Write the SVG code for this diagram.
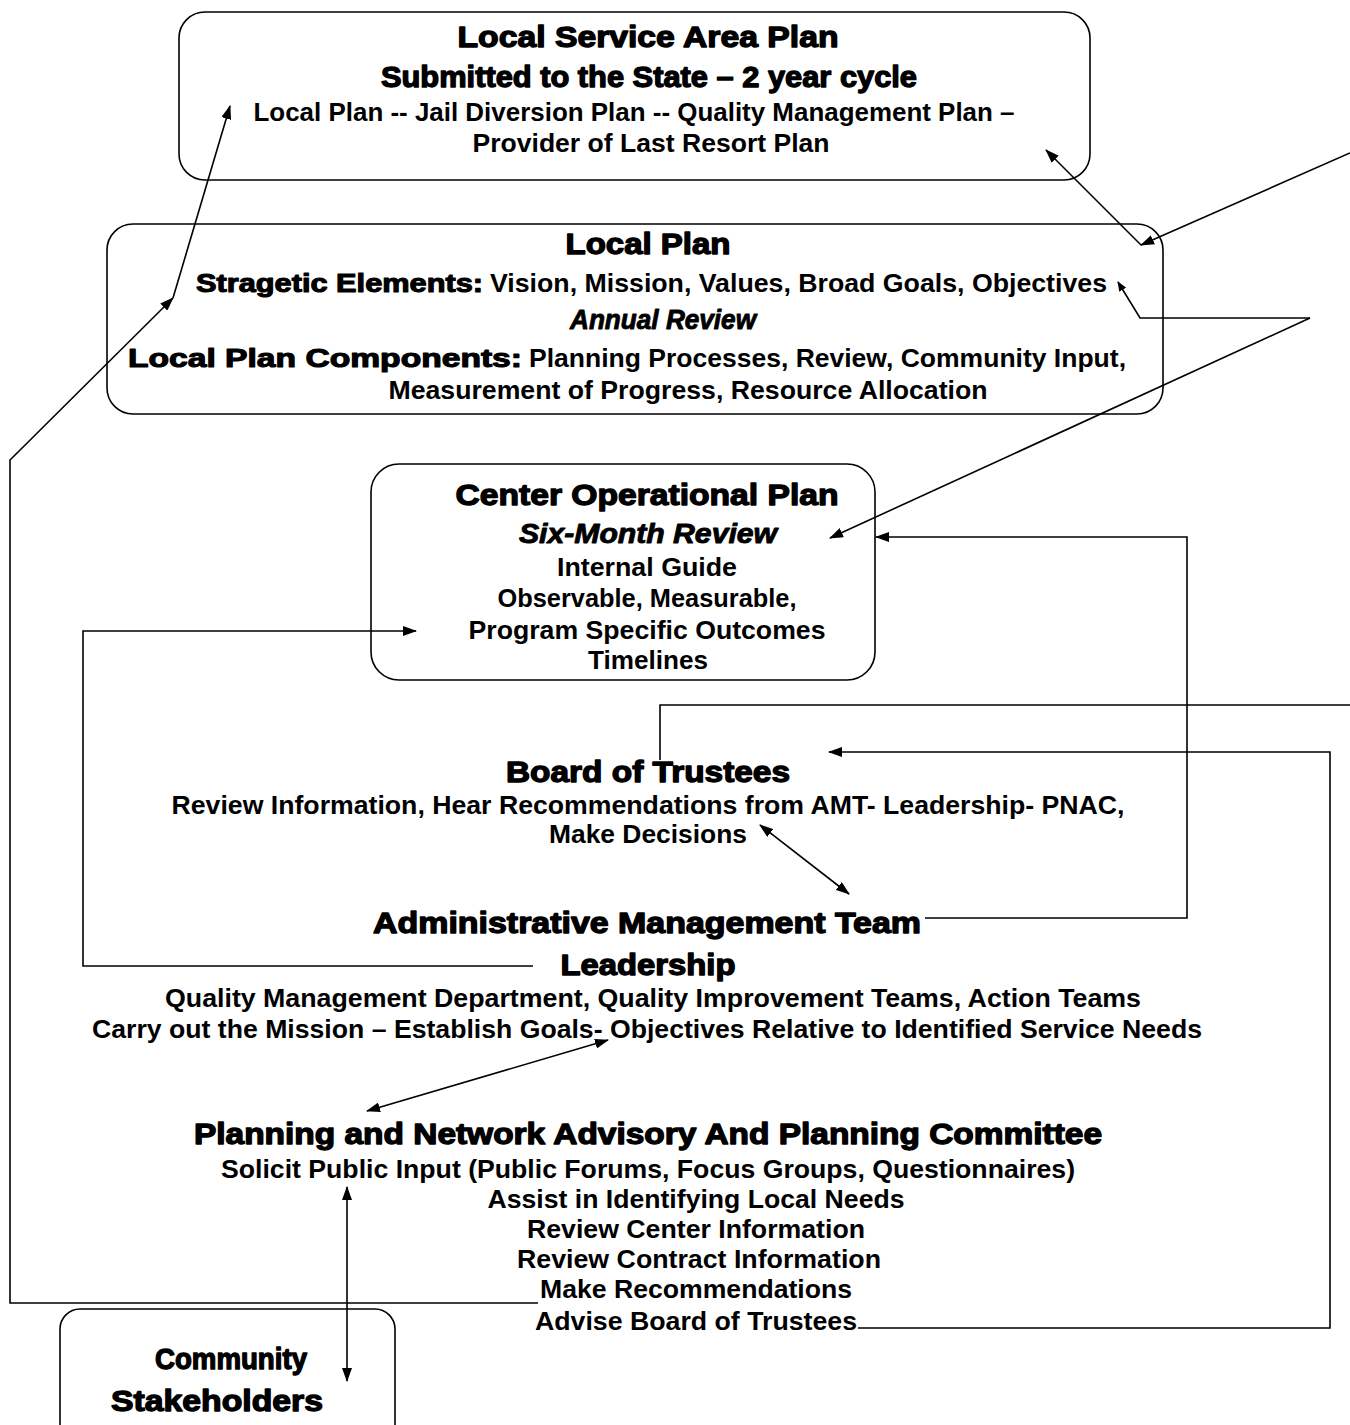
<svg xmlns="http://www.w3.org/2000/svg" width="1350" height="1425" viewBox="0 0 1350 1425">
<style>
.box{fill:#fff;stroke:#000;stroke-width:1.6}
.h{font-family:"Liberation Sans",Arial,sans-serif;font-weight:bold;font-size:29px;fill:#000;stroke:#000;stroke-width:1.3;stroke-linejoin:round}
.hs{font-family:"Liberation Sans",Arial,sans-serif;font-weight:bold;font-size:26px;fill:#000;stroke:#000;stroke-width:1.1;stroke-linejoin:round}
.b{font-family:"Liberation Sans",Arial,sans-serif;font-weight:bold;font-size:25px;fill:#000}
.bi{font-family:"Liberation Sans",Arial,sans-serif;font-weight:bold;font-style:italic;font-size:27px;fill:#000;stroke:#000;stroke-width:0.9;stroke-linejoin:round}
.c{fill:none;stroke:#000;stroke-width:1.6}
text{text-anchor:middle}
</style>
<defs>
<marker id="ah" viewBox="0 0 14 10" refX="13" refY="5" markerWidth="14" markerHeight="10" markerUnits="userSpaceOnUse" orient="auto-start-reverse">
<path d="M0,0 L14,5 L0,10 Z" fill="#000"/>
</marker>
<marker id="ahs" viewBox="0 0 10 8" refX="9" refY="4" markerWidth="10" markerHeight="8" markerUnits="userSpaceOnUse" orient="auto">
<path d="M0,0 L10,4 L0,8 Z" fill="#000"/>
</marker>
</defs>
<rect width="1350" height="1425" fill="#fff"/>

<g id="local-service-area-plan">
<rect class="box" x="179" y="12" width="911" height="168" rx="26"/>
<text class="h" x="648" y="47" textLength="381" lengthAdjust="spacingAndGlyphs">Local Service Area Plan</text>
<text class="h" x="649" y="87" textLength="536" lengthAdjust="spacingAndGlyphs">Submitted to the State – 2 year cycle</text>
<text class="b" x="634" y="121" textLength="761" lengthAdjust="spacingAndGlyphs">Local Plan -- Jail Diversion Plan --  Quality Management Plan –</text>
<text class="b" x="651" y="152" textLength="357" lengthAdjust="spacingAndGlyphs">Provider of Last Resort Plan</text>
</g>

<g id="local-plan">
<rect class="box" x="107" y="224" width="1056" height="190" rx="26"/>
<text class="h" x="648" y="254" textLength="165" lengthAdjust="spacingAndGlyphs">Local Plan</text>
<text x="196" y="292" style="text-anchor:start"><tspan class="hs" textLength="287" lengthAdjust="spacingAndGlyphs">Stragetic Elements:</tspan><tspan class="b" dx="7" textLength="617" lengthAdjust="spacingAndGlyphs">Vision, Mission, Values, Broad Goals, Objectives</tspan></text>
<text class="bi" x="663" y="329" textLength="186" lengthAdjust="spacingAndGlyphs">Annual Review</text>
<text x="128" y="367" style="text-anchor:start"><tspan class="hs" textLength="394" lengthAdjust="spacingAndGlyphs">Local Plan Components:</tspan><tspan class="b" dx="7" textLength="597" lengthAdjust="spacingAndGlyphs">Planning Processes, Review, Community Input,</tspan></text>
<text class="b" x="688" y="399" textLength="599" lengthAdjust="spacingAndGlyphs">Measurement of Progress, Resource Allocation</text>
</g>

<g id="center-operational-plan">
<rect class="box" x="371" y="464" width="504" height="216" rx="28"/>
<text class="h" x="647" y="505" textLength="383" lengthAdjust="spacingAndGlyphs">Center Operational Plan</text>
<text class="bi" x="648" y="543" textLength="258" lengthAdjust="spacingAndGlyphs">Six-Month Review</text>
<text class="b" x="647" y="576" textLength="180" lengthAdjust="spacingAndGlyphs">Internal Guide</text>
<text class="b" x="647" y="607" textLength="299" lengthAdjust="spacingAndGlyphs">Observable, Measurable,</text>
<text class="b" x="647" y="639" textLength="357" lengthAdjust="spacingAndGlyphs">Program Specific Outcomes</text>
<text class="b" x="648" y="669" textLength="120" lengthAdjust="spacingAndGlyphs">Timelines</text>
</g>

<g id="board-of-trustees">
<text class="h" x="648" y="782" textLength="284" lengthAdjust="spacingAndGlyphs">Board of Trustees</text>
<text class="b" x="648" y="814" textLength="953" lengthAdjust="spacingAndGlyphs">Review Information, Hear Recommendations from AMT- Leadership- PNAC,</text>
<text class="b" x="648" y="843" textLength="198" lengthAdjust="spacingAndGlyphs">Make Decisions</text>
</g>

<g id="administrative-management-team">
<text class="h" x="647" y="933" textLength="548" lengthAdjust="spacingAndGlyphs">Administrative Management Team</text>
<text class="h" x="648" y="975" textLength="175" lengthAdjust="spacingAndGlyphs">Leadership</text>
<text class="b" x="653" y="1007" textLength="976" lengthAdjust="spacingAndGlyphs">Quality Management Department, Quality Improvement Teams, Action Teams</text>
<text class="b" x="647" y="1038" textLength="1110" lengthAdjust="spacingAndGlyphs">Carry out the Mission – Establish Goals- Objectives Relative to Identified Service Needs</text>
</g>

<g id="pnac">
<text class="h" x="648" y="1144" textLength="908" lengthAdjust="spacingAndGlyphs">Planning and Network Advisory And Planning Committee</text>
<text class="b" x="648" y="1178" textLength="854" lengthAdjust="spacingAndGlyphs">Solicit Public Input (Public Forums, Focus Groups, Questionnaires)</text>
<text class="b" x="696" y="1208" textLength="417" lengthAdjust="spacingAndGlyphs">Assist in Identifying Local Needs</text>
<text class="b" x="696" y="1238" textLength="338" lengthAdjust="spacingAndGlyphs">Review Center Information</text>
<text class="b" x="699" y="1268" textLength="364" lengthAdjust="spacingAndGlyphs">Review Contract Information</text>
<text class="b" x="696" y="1298" textLength="312" lengthAdjust="spacingAndGlyphs">Make Recommendations</text>
<text class="b" x="696" y="1330" textLength="322" lengthAdjust="spacingAndGlyphs">Advise Board of Trustees</text>
</g>

<g id="community-stakeholders">
<rect class="box" x="60" y="1309" width="335" height="150" rx="20"/>
<text class="h" x="231" y="1369" textLength="152" lengthAdjust="spacingAndGlyphs">Community</text>
<text class="h" x="217" y="1411" textLength="212" lengthAdjust="spacingAndGlyphs">Stakeholders</text>
</g>

<g id="connectors">
<polyline class="c" points="538,1303 10,1303 10,460 173,298" marker-end="url(#ah)"/>
<line class="c" x1="173" y1="298" x2="230" y2="106" marker-end="url(#ah)"/>
<line class="c" x1="1350" y1="153" x2="1141" y2="245" marker-end="url(#ah)"/>
<line class="c" x1="1141" y1="245" x2="1046" y2="150" marker-end="url(#ah)"/>
<polyline class="c" points="1310,318 1140,318 1118,282" marker-end="url(#ahs)"/>
<line class="c" x1="1310" y1="318" x2="830" y2="538" marker-end="url(#ah)"/>
<polyline class="c" points="925,918 1187,918 1187,537 876,537" marker-end="url(#ah)"/>
<polyline class="c" points="533,966 83,966 83,631 416,631" marker-end="url(#ah)"/>
<polyline class="c" points="660,760 660,705 1350,705"/>
<polyline class="c" points="858,1328 1330,1328 1330,752 829,752" marker-end="url(#ah)"/>
<line class="c" x1="760" y1="825" x2="849" y2="894" marker-start="url(#ah)" marker-end="url(#ah)"/>
<line class="c" x1="608" y1="1040" x2="367" y2="1111" marker-start="url(#ah)" marker-end="url(#ah)"/>
<line class="c" x1="347" y1="1187" x2="347" y2="1381" marker-start="url(#ah)" marker-end="url(#ah)"/>
</g>
</svg>
